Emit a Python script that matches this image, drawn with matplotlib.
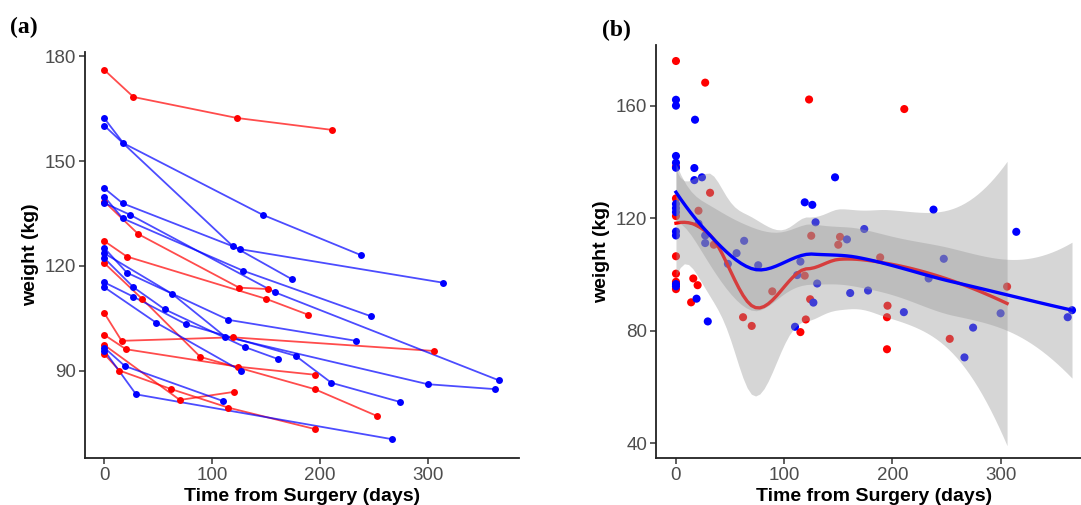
import numpy as np
import matplotlib
matplotlib.use("Agg")
import matplotlib.pyplot as plt

plt.rcParams['font.family'] = ['Liberation Sans', 'DejaVu Sans']

# weight trajectories; one inner list per patient
red_days = [[0, 27, 123, 211], [0, 31.5, 125, 151.6], [0, 20.8, 150, 188.7],
            [0, 35, 89, 195, 253], [0, 16, 119, 306], [0, 20, 124, 195.5],
            [0, 70, 120], [0, 14, 62, 115, 195]]
red_weights = [[176, 168.3, 162.3, 158.9], [138.4, 129.1, 113.8, 113.4],
               [127.1, 122.7, 110.6, 106.1], [120.8, 110.6, 94, 84.8, 77.1],
               [106.5, 98.6, 99.6, 95.7], [100.3, 96.2, 91.2, 88.9],
               [97.4, 81.7, 84], [94.8, 90.1, 84.8, 79.5, 73.4]]

blue_days = [[0, 17.6, 147, 238], [0, 119, 174], [0, 17, 126, 314.5],
             [0, 17, 129, 247.5], [0, 24, 158, 366], [0, 20.8, 115, 233.5],
             [0, 63, 112, 300, 362], [0, 27, 56, 130.5, 161],
             [0, 27, 76, 177.5, 210.6, 274.6], [0, 48, 127], [0, 19, 110],
             [0, 29.4, 266.6]]
blue_weights = [[162.2, 155.1, 134.6, 123.1], [160.1, 125.7, 116.2],
                [142.2, 137.9, 124.8, 115.2], [139.8, 133.6, 118.6, 105.6],
                [138, 134.6, 112.5, 87.3], [125.1, 118.1, 104.6, 98.6],
                [123.6, 112, 99.8, 86.2, 84.8], [122.2, 113.9, 107.6, 96.8, 93.4],
                [115.3, 111.2, 103.3, 94.3, 86.6, 81.1], [113.9, 103.8, 90],
                [96.6, 91.4, 81.4], [95.8, 83.3, 70.5]]

RED = '#FF0000'
BLUE = '#0000FF'


def loess(x, y, grid, span=0.75, cell=0.2):
    # R-style loess: local quadratic fits at kd-tree vertices,
    # cubic Hermite interpolation in between
    n = len(x)
    q = int(np.floor(n * span))
    fc = int(np.floor(n * span * cell))

    def local(x0):
        d = np.abs(x - x0)
        h = np.sort(d)[q - 1]
        w = np.clip(1 - (d / h) ** 3, 0, None) ** 3
        X = np.column_stack([np.ones(n), x - x0, (x - x0) ** 2])
        XtW = X.T * w
        sol = np.linalg.solve(XtW @ X, XtW)
        return sol[0], sol[1]

    xs = np.sort(x)
    marg = 0.005 * (xs[-1] - xs[0])
    verts = [xs[0] - marg, xs[-1] + marg]

    def split(pts, a, b):
        k = len(pts)
        if k <= fc:
            return
        i = (k - 1) // 2
        v = pts[i] if k % 2 else (pts[i] + pts[i + 1]) / 2
        if v <= a or v >= b:
            return
        verts.append(v)
        split(pts[:i + 1], a, v)
        split(pts[i + 1:], v, b)

    split(xs, verts[0], verts[1])
    verts = np.array(sorted(set(verts)))
    vals, slopes = zip(*[local(v) for v in verts])
    vals, slopes = np.array(vals), np.array(slopes)

    def op(x0):
        j = np.clip(np.searchsorted(verts, x0) - 1, 0, len(verts) - 2)
        h = verts[j + 1] - verts[j]
        t = (x0 - verts[j]) / h
        h00 = 2 * t**3 - 3 * t**2 + 1
        h10 = t**3 - 2 * t**2 + t
        h01 = -2 * t**3 + 3 * t**2
        h11 = t**3 - t**2
        return (h00 * vals[j] + h10 * h * slopes[j]
                + h01 * vals[j + 1] + h11 * h * slopes[j + 1])

    L = np.array([op(v) for v in x])
    res = y - L @ y
    M = np.eye(n) - L
    MM = M.T @ M
    d1 = np.trace(MM)
    d2 = np.trace(MM @ MM)
    s = np.sqrt(np.sum(res ** 2) / d1)
    df = d1 ** 2 / d2
    z = 1.959964
    t = (z + (z**3 + z) / (4 * df) + (5 * z**5 + 16 * z**3 + 3 * z) / (96 * df**2)
         + (3 * z**7 + 19 * z**5 + 17 * z**3 - 15 * z) / (384 * df**3))
    Lg = np.array([op(v) for v in grid])
    fit = Lg @ y
    se = s * np.sqrt(np.sum(Lg ** 2, axis=1))
    return fit, fit - t * se, fit + t * se


def style(ax, yticks):
    for side in ['top', 'right']:
        ax.spines[side].set_visible(False)
    for side in ['left', 'bottom']:
        ax.spines[side].set_linewidth(1.3)
        ax.spines[side].set_color('#222222')
    ax.set_xticks([0, 100, 200, 300])
    ax.set_yticks(yticks)
    ax.tick_params(length=4, width=1.1, color='#333333', labelcolor='#4D4D4D',
                   labelsize=13.5, pad=2.5)
    ax.set_xlabel('Time from Surgery (days)', fontsize=14, fontweight='bold', labelpad=3)
    ax.set_ylabel('weight (kg)', fontsize=14, fontweight='bold', labelpad=4)
    ax.set_xlim(-18.3, 384.3)


fig = plt.figure(figsize=(10.81, 5.05), dpi=100)
ax1 = fig.add_axes([0.0783, 0.0937, 0.4015, 0.8043])
ax2 = fig.add_axes([0.607, 0.0937, 0.403, 0.8172])

# (a) spaghetti plot
for days, weights, col in [(red_days, red_weights, RED), (blue_days, blue_weights, BLUE)]:
    for d, w in zip(days, weights):
        ax1.plot(d, w, color=col, alpha=0.7, lw=1.3, zorder=2)
        ax1.plot(d, w, 'o', color=col, ms=5, mec='none', zorder=3)
style(ax1, [90, 120, 150, 180])
ax1.set_ylim(65.2, 181.3)

# (b) scatter with loess smooths
groups = []
for days, weights, col in [(red_days, red_weights, RED), (blue_days, blue_weights, BLUE)]:
    x = np.concatenate([np.array(d, float) for d in days])
    y = np.concatenate([np.array(w, float) for w in weights])
    groups.append((x, y, col))
    ax2.scatter(x, y, s=34, color=col, edgecolors='none', zorder=2)
for x, y, col in groups:
    grid = np.linspace(x.min(), x.max(), 80)
    fit, lo, hi = loess(x, y, grid)
    ax2.fill_between(grid, lo, hi, color='#999999', alpha=0.4, lw=0, zorder=3)
    ax2.plot(grid, fit, color=col, lw=2.4, zorder=3)
style(ax2, [40, 80, 120, 160])
ax2.set_ylim(34.8, 181.7)

fig.text(0.009, 0.945, '(a)', fontsize=17, fontweight='bold', family='Liberation Serif',
         va='center', ha='left')
fig.text(0.557, 0.94, '(b)', fontsize=17, fontweight='bold', family='Liberation Serif',
         va='center', ha='left')

fig.savefig('out.png', dpi=100)
